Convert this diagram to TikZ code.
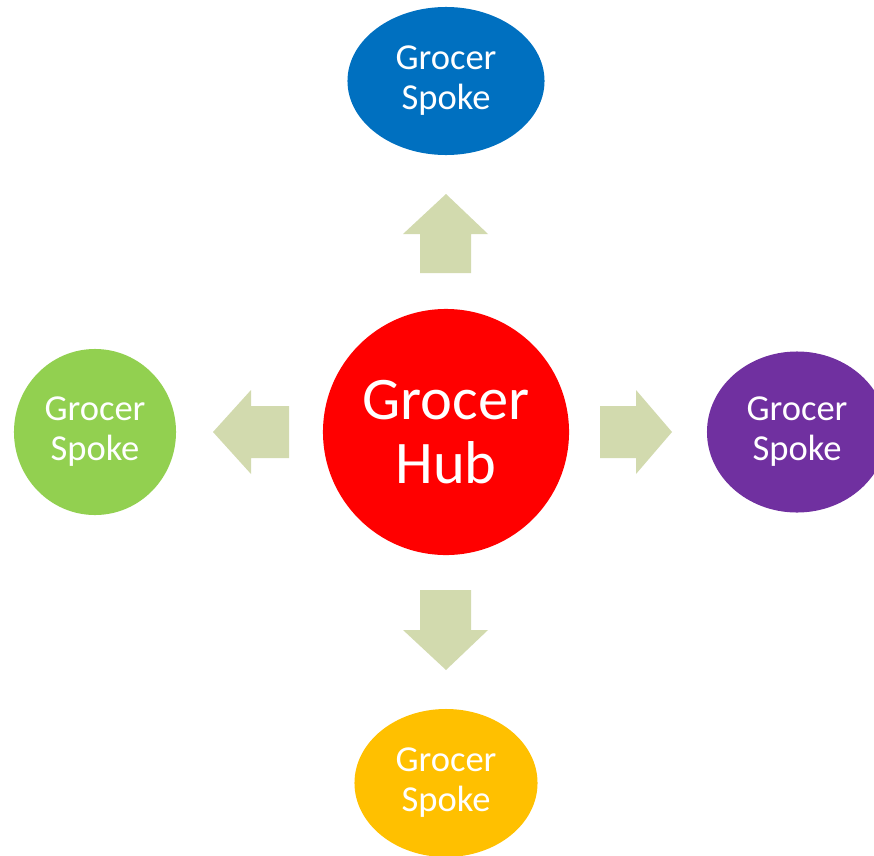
\documentclass[tikz,border=0pt]{standalone}
\usepackage{fontspec}
\setmainfont{Carlito}
\usepackage{tikz}
\usetikzlibrary{shapes.geometric}
\usepackage{xcolor}
\definecolor{hubred}{RGB}{255, 0, 0}
\definecolor{spokeblue}{RGB}{0, 112, 192}
\definecolor{spokegreen}{RGB}{146, 208, 80}
\definecolor{spokepurple}{RGB}{112, 48, 160}
\definecolor{spokeyellow}{RGB}{255, 192, 0}
\definecolor{arrowsage}{RGB}{210, 218, 174}

\begin{document}
\begin{tikzpicture}[x=0.025cm, y=-0.025cm,
    spoke/.style={ellipse, inner sep=0pt, text=white, align=center,
        font=\fontsize{26}{28.5}\selectfont},
    blockarrow/.style={fill=arrowsage, draw=none}]
                \useasboundingbox (0,0) rectangle (874,855);
                \clip (0,0) rectangle (874,855);

                % Hub
                \node[circle, fill=hubred, minimum size=6.15cm, inner sep=0pt, text=white, align=center,
                    font=\fontsize{43}{46}\selectfont] (hub) at (446,432) {Grocer\\Hub};

                % Spokes
                \node[spoke, fill=spokeblue, minimum width=4.925cm, minimum height=3.7cm] (top) at (446,81) {Grocer\\Spoke};
                \node[spoke, fill=spokegreen, minimum width=4.05cm, minimum height=4.15cm] (left) at (95,432) {Grocer\\Spoke};
                \node[spoke, fill=spokepurple, minimum width=4.5cm, minimum height=4.025cm] (right) at (797,432) {Grocer\\Spoke};
                \node[spoke, fill=spokeyellow, minimum width=4.575cm, minimum height=3.7cm] (bottom) at (446,783) {Grocer\\Spoke};

                % Arrows
                \fill[blockarrow] (446,194) -- (488,234) -- (471,234) -- (471,273) -- (420,273) -- (420,234) -- (403,234) -- cycle;
                \fill[blockarrow] (446,670) -- (488,630) -- (471,630) -- (471,590) -- (420,590) -- (420,630) -- (403,630) -- cycle;
                \fill[blockarrow] (213,432) -- (251,390) -- (251,406) -- (289,406) -- (289,458) -- (251,458) -- (251,474) -- cycle;
                \fill[blockarrow] (672,432) -- (636,390) -- (636,406) -- (600,406) -- (600,458) -- (636,458) -- (636,474) -- cycle;
            \end{tikzpicture}
\end{document}
